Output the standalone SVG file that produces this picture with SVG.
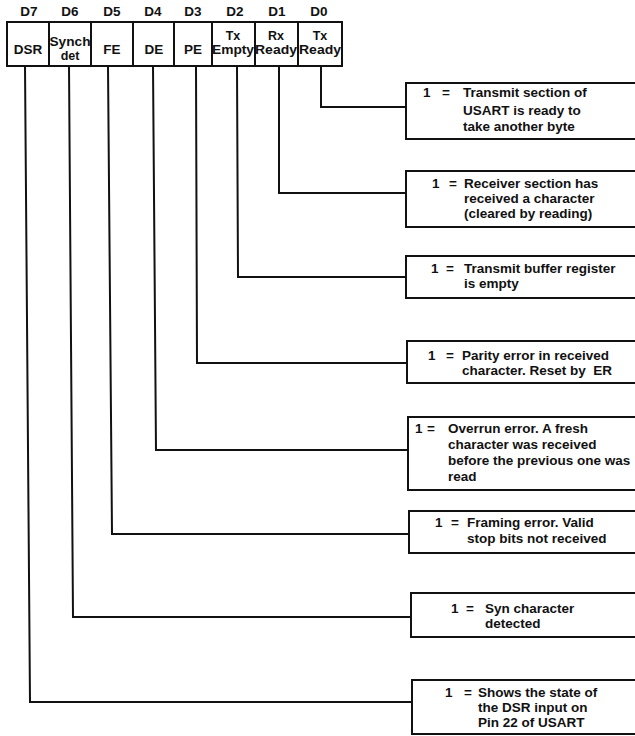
<svg xmlns="http://www.w3.org/2000/svg" width="635" height="736" viewBox="0 0 635 736">
<style>
.ln{fill:none;stroke:#111;stroke-width:2;stroke-linejoin:miter}
.bx{fill:#fff;stroke:#111;stroke-width:2}
.t{font-family:"Liberation Sans",Arial,sans-serif;font-weight:bold;font-size:13.5px;fill:#111}
.c{text-anchor:middle}
.sm{font-size:12.5px}
</style>
<rect width="635" height="736" fill="#fff"/>
<g id="register">
<rect class="bx" x="7" y="22" width="335" height="44"/>
<path class="ln" d="M49 22V66M91 22V66M133 22V66M174 22V66M212 22V66M255 22V66M298 22V66"/>
<g class="t c">
<text x="29" y="16">D7</text>
<text x="70" y="16">D6</text>
<text x="112" y="16">D5</text>
<text x="153" y="16">D4</text>
<text x="193" y="16">D3</text>
<text x="235" y="16">D2</text>
<text x="277" y="16">D1</text>
<text x="319" y="16">D0</text>
<text x="28" y="54">DSR</text>
<text class="sm" x="70" y="46" textLength="41" lengthAdjust="spacingAndGlyphs">Synch</text>
<text class="sm" x="70" y="60">det</text>
<text x="112" y="54">FE</text>
<text x="154" y="54">DE</text>
<text x="193" y="54">PE</text>
<text class="sm" x="233" y="40">Tx</text>
<text class="sm" x="233" y="54" textLength="42" lengthAdjust="spacingAndGlyphs">Empty</text>
<text class="sm" x="276" y="40">Rx</text>
<text class="sm" x="276" y="54" textLength="42" lengthAdjust="spacingAndGlyphs">Ready</text>
<text class="sm" x="320" y="40">Tx</text>
<text class="sm" x="320" y="54" textLength="42" lengthAdjust="spacingAndGlyphs">Ready</text>
</g>
</g>
<g id="connectors">
<path class="ln" d="M321 66V107H406"/>
<path class="ln" d="M279 66V193H406"/>
<path class="ln" d="M237 66L238 277H406"/>
<path class="ln" d="M196 66L197 363H407"/>
<path class="ln" d="M153 66L156 450H408"/>
<path class="ln" d="M108 66L112 534H409"/>
<path class="ln" d="M69 66L73 617H411"/>
<path class="ln" d="M25 66L30 702H412"/>
</g>
<g id="box-d0">
<rect class="bx" x="406" y="83" width="240" height="56"/>
<g class="t"><text x="423" y="97">1</text><text x="442" y="97">=</text>
<text x="463" y="97">Transmit section of</text>
<text x="463" y="115">USART is ready to</text>
<text x="463" y="131">take another byte</text></g>
</g>
<g id="box-d1">
<rect class="bx" x="406" y="171" width="240" height="56"/>
<g class="t"><text x="432" y="188">1</text><text x="449" y="188">=</text>
<text x="464" y="188">Receiver section has</text>
<text x="464" y="203">received a character</text>
<text x="464" y="218">(cleared by reading)</text></g>
</g>
<g id="box-d2">
<rect class="bx" x="406" y="256" width="240" height="42"/>
<g class="t"><text x="431" y="273">1</text><text x="446" y="273">=</text>
<text x="464" y="273">Transmit buffer register</text>
<text x="464" y="288">is empty</text></g>
</g>
<g id="box-d3">
<rect class="bx" x="407" y="341" width="240" height="42"/>
<g class="t"><text x="428" y="360">1</text><text x="446" y="360">=</text>
<text x="462" y="360">Parity error in received</text>
<text x="462" y="375" xml:space="preserve">character. Reset by  ER</text></g>
</g>
<g id="box-d4">
<rect class="bx" x="408" y="417" width="240" height="73"/>
<g class="t"><text x="415" y="433">1</text><text x="427" y="433">=</text>
<text x="448" y="433">Overrun error. A fresh</text>
<text x="448" y="449">character was received</text>
<text x="448" y="465">before the previous one was</text>
<text x="448" y="481">read</text></g>
</g>
<g id="box-d5">
<rect class="bx" x="409" y="511" width="240" height="42"/>
<g class="t"><text x="435" y="527">1</text><text x="451" y="527">=</text>
<text x="467" y="527">Framing error. Valid</text>
<text x="467" y="543">stop bits not received</text></g>
</g>
<g id="box-d6">
<rect class="bx" x="411" y="593" width="240" height="44"/>
<g class="t"><text x="451" y="613">1</text><text x="466" y="613">=</text>
<text x="485" y="613">Syn character</text>
<text x="485" y="628">detected</text></g>
</g>
<g id="box-d7">
<rect class="bx" x="412" y="680" width="240" height="54"/>
<g class="t"><text x="445" y="697">1</text><text x="464" y="697">=</text>
<text x="478" y="697">Shows the state of</text>
<text x="478" y="712">the DSR input on</text>
<text x="478" y="727">Pin 22 of USART</text></g>
</g>
</svg>
